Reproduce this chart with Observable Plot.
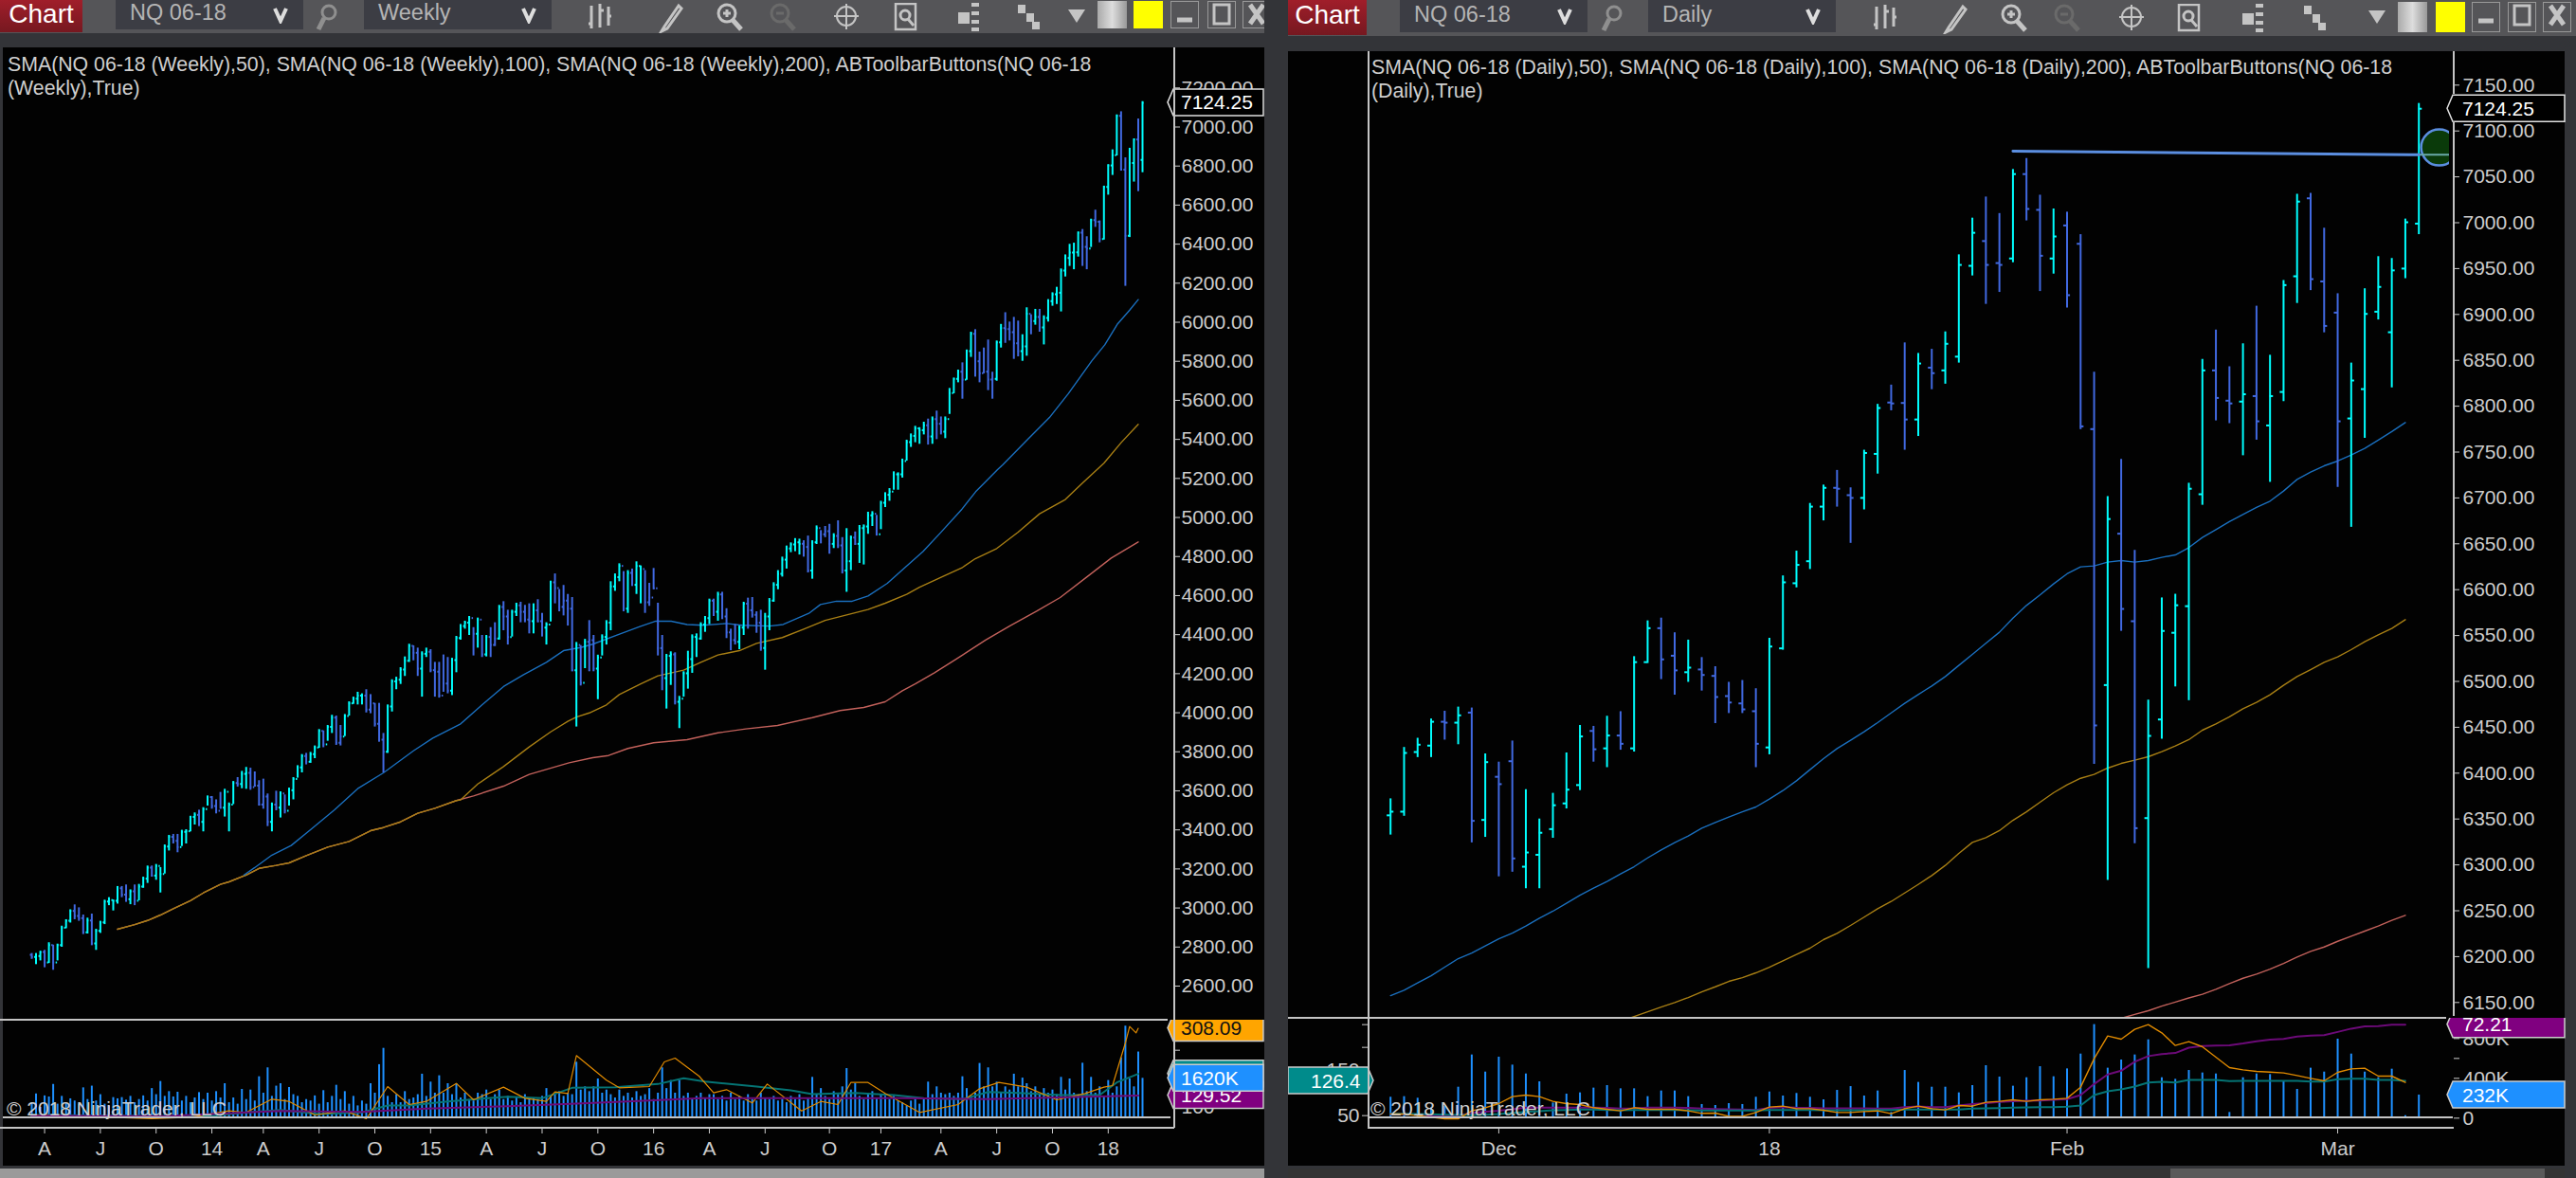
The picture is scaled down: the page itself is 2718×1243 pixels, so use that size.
<!DOCTYPE html>
<html><head><meta charset="utf-8">
<script src="https://cdn.jsdelivr.net/npm/d3@7"></script>
<script src="https://cdn.jsdelivr.net/npm/@observablehq/plot@0.6"></script>
<style>
html,body{margin:0;padding:0;background:#333438;width:2718px;height:1243px;overflow:hidden;font-family:"Liberation Sans",Arial,sans-serif}
#root{position:relative;width:2718px;height:1243px;overflow:hidden}
.box{position:absolute}
.btn{position:absolute;background:linear-gradient(#a01e2a,#761820);color:#fff;font-size:28px;line-height:28px;text-align:center;overflow:hidden}
.dd{position:absolute;background:#3c3d44;color:#b4b4b4;font-size:23.5px;padding-left:15px;box-sizing:border-box;white-space:nowrap}
.legend{position:absolute;color:#cfcfcf;font-size:21.3px;line-height:25px;white-space:nowrap}
.copy{position:absolute;color:#cfcfcf;font-size:21px;white-space:nowrap;line-height:24px}
.layer{position:absolute}
</style></head><body><div id="root"></div>
<script>
// ---------- Daily chart values (NQ 06-18)
const dailyOpen=[6354,6358,6423,6430,6456,6455,6466,6349,6396,6413,6298,6311,6339,6367,6387,6446,6427,6441,6427,6521,6558,6528,6510,6513,6506,6484,6476,6467.5,6428,6536,6607,6631,6690.5,6711,6703,6700,6748,6804,6803.5,6785.5,6842,6839,6854,6953,6980,6956,6961,7053,7014,6961,6997,6977,6775,6496,6661,6565.6,6351,6458.5,6553,6582,6704,6839,6806,6805,6811,6779,6815.5,6941.6,7026.6,6936,6902,6786.6,6818.6,6903,6880.6,6950,6999];
const dailyHigh=[6372,6428,6438,6459,6467.5,6472,6471,6421,6412,6435,6382,6350,6378,6422,6452,6451,6462,6467,6527,6566,6569,6553,6545,6526,6516,6499,6501,6492,6547,6615,6642,6694,6714,6730,6711,6752,6802,6823,6869,6857.5,6862,6881,6965,7005,7028,7010,7058,7070,7030,7015,7011.5,6987,6837,6701.5,6742,6642.7,6479.5,6591,6595,6716,6851,6883,6843,6868,6909,6855.5,6937,7031,7032,6994,6922.6,6847,6928,6963,6961,7004,7130];
const dailyLow=[6332.5,6353,6417,6417,6436,6431,6324,6330,6287,6292,6274,6274,6329,6361,6381,6412,6406,6425,6423,6519.5,6502,6485,6499,6489.5,6454,6465,6465,6406,6420,6534,6602,6622,6675,6690,6650.5,6687,6726,6795,6752,6767,6818,6824,6847,6942,6911,6924,6956.4,7002,6925,6944,6907,6774.5,6409.6,6283,6554.6,6323,6187,6437,6494,6479,6692,6784,6781,6746,6763,6717,6805,6912,6926,6880,6711.5,6668,6765,6894,6820,6939,6987];
const dailyClose=[6358,6422,6431,6456,6455,6463,6348,6412,6388,6307,6313.5,6335,6365,6382,6440,6426,6441,6432,6521,6558,6524,6512,6515,6507,6483,6477,6469.5,6432,6538,6608,6627,6690.5,6711,6710,6700,6749,6798,6803,6785.5,6846.5,6836,6868,6954,6989,6954,6954,7053,7015,6964,6985,6921,6778,6452,6677,6579,6340,6440.6,6555,6583,6710,6839,6809,6803,6813,6783.5,6811,6932,7023,6938.5,6887.5,6783.5,6828,6900.6,6930,6948,7000.5,7124.25];
const dailySma50=[6157.5,6163.4,6171.3,6179.2,6188.5,6197.8,6204,6211.6,6219.5,6225.7,6233.3,6241.9,6249.5,6258.1,6267,6274.6,6281.8,6290.1,6298,6307.6,6316.3,6324.2,6331.4,6340,6346.2,6352.1,6357.9,6363.1,6371.7,6381,6391.7,6403.8,6415.8,6426.8,6435.8,6445.1,6455.1,6465.7,6476.1,6485.7,6495,6505.3,6517.4,6529.5,6541.5,6553.6,6569,6582.8,6594.2,6606.3,6617.3,6624.9,6625.9,6630,6631.7,6630,6631.7,6635.2,6637.9,6645.9,6656.9,6665.5,6674.1,6682,6689.6,6696.5,6707.5,6720.2,6728.1,6735,6740.2,6746.8,6754,6763,6772.3,6782.2];
const dailySma100Start=17;
const dailySma100=[6129.5,6134.7,6139.9,6145,6150,6155.4,6161.6,6167.1,6173,6177.1,6182.3,6188.5,6195.4,6202.3,6209.2,6218.5,6225.4,6234,6243,6252.2,6260.1,6269.4,6278.7,6288.4,6299.4,6312.5,6324.5,6329.7,6337.3,6348.6,6357.9,6368.3,6378.6,6387.2,6394.4,6398.6,6405.5,6410.6,6414.1,6417.9,6423.4,6429.6,6436.5,6446.8,6453.7,6461.3,6470.2,6477.1,6485.4,6495.7,6505.3,6512.9,6520.8,6526.7,6534.6,6543.2,6550.8,6557.7,6567.3];
const dailySma200Start=54;
const dailySma200=[6132.7,6137,6141,6146,6150.5,6155,6159,6164.4,6170.6,6176.4,6180.9,6186.4,6192.6,6199.5,6205.7,6210.5,6216.7,6222.3,6227.8,6233.3,6239.5,6245];
const dailyVolumeK=[210,216,200,105,121,311,635,463,613,533,444,365,152,241,254,302,327,295,295,216,273,273,216,137,127,146,137,210,263,222,248,210,184,279,317,222,273,57,479,359,311,311,254,327,527,413,321,406,517,416,495,644,940,502,584,635,787,406,390,479,454,444,57,406,444,438,368,289,502,463,794,644,463,406,492,25,232];
const dailyOrange=[53.5,53.5,50,46.5,43,43,60.4,67.4,76.4,91.7,95.1,91.7,81.3,76.4,74.3,67.4,63.9,60.4,67.4,63.9,63.9,63.9,60.4,54.9,55.6,48.6,48.6,56.9,68.8,70.8,65.3,65.3,61.8,56.9,56.9,59,60.4,54.2,65.3,70.8,65.3,62.5,72.2,70.8,79.2,81.3,84.7,81.3,84.7,86.1,88.2,112.5,175,225,218,239.6,250,231.9,204.2,212.5,201.4,178.5,155.6,150.7,147.2,145.8,143.8,138.2,131.9,126.4,145.1,152.8,154.2,136.8,136.8,122.9];
const dailyTeal=[54.2,54.2,53.5,52.8,52.1,51.4,51.4,52.1,53.5,55.6,58.3,59.7,61.8,62.5,63.2,63.2,62.5,61.8,62.5,62.5,62.5,62.5,61.8,61.1,61.1,61.1,61.1,61.1,62.5,62.5,62.5,62.5,61.8,61.8,61.8,61.8,62.5,62.5,63.2,63.2,63.2,63.2,63.2,65.3,66,66.7,67.4,68.1,68.8,68.8,69.4,72.2,95.1,103.5,107.6,113.9,122.9,124.3,122.9,128.5,128.5,128.5,125.7,126.4,126.4,126.4,126.4,126.4,125,125,129.9,131.3,131.3,128.5,128.5,126.4];
const dailyPurple=[31.9,31.9,31.6,31.1,30.9,31.1,32.3,32.9,33.3,34,34.7,34.7,34.7,34.7,34.7,34.7,34.6,34.3,34.4,34.7,34.7,34.7,34.6,34.3,34.1,34,33.9,33.7,34.6,35,34.7,34.6,34.4,34.4,34.4,34.4,34.3,34.3,35,35.3,35,35,35.7,36.3,36.8,37.3,37.6,37.8,38,38.3,38.6,40.4,45.4,49.7,51.4,55.4,58,58.9,59.4,61.8,62.5,62.8,62.9,63.7,64.7,65.4,65.8,66.8,67.2,67.5,68.9,70.4,71.4,71.5,72.2,72.2];
const dailyTickIdx=[8,28,50,70];
const dailyTickLabels=["Dec","18","Feb","Mar"];

// ---------- Weekly chart values
const weekFirstOpen=2760;
const weekHigh=[2767,2767,2778,2783,2822,2810,2815,2907,2940,2991,3016,3001,2964,2948,2969,2891,2932,3040,3053,3040,3110,3110,3118,3093,3118,3121,3158,3215,3215,3223,3207,3323,3372,3377,3377,3398,3401,3470,3487,3501,3514,3574,3571,3554,3592,3608,3538,3648,3668,3700,3720,3716,3697,3652,3660,3584,3538,3598,3595,3579,3614,3668,3729,3786,3792,3797,3830,3914,3907,3935,3987,3983,3935,3991,4056,4080,4105,4097,4118,4093,4048,4048,3894,4040,4169,4182,4231,4286,4351,4343,4331,4312,4331,4323,4258,4258,4296,4283,4279,4391,4452,4469,4493,4436,4485,4396,4396,4436,4461,4550,4569,4525,4525,4561,4566,4550,4558,4558,4579,4509,4461,4674,4711,4631,4652,4606,4590,4360,4344,4376,4472,4396,4295,4399,4472,4671,4711,4763,4723,4728,4736,4773,4752,4728,4663,4739,4561,4396,4299,4312,4307,4084,4210,4315,4399,4404,4461,4493,4582,4582,4617,4617,4533,4428,4452,4444,4566,4587,4590,4517,4525,4509,4585,4666,4728,4797,4854,4870,4892,4889,4881,4905,4881,4957,4933,4954,4965,4917,4983,4897,4943,4905,4926,4959,4962,5027,5030,5011,5083,5127,5148,5234,5229,5299,5396,5428,5467,5460,5488,5504,5515,5545,5515,5515,5661,5714,5755,5792,5858,5949,5962,5847,5868,5909,5744,5904,5989,6049,6001,6025,6006,5936,6074,6038,6066,6066,6033,6116,6151,6179,6273,6345,6399,6405,6462,6475,6438,6528,6574,6519,6697,6807,6883,7062,7078,6842,6891,6939,7041,7130];
const weekLow=[2737,2710,2729,2694,2716,2681,2729,2799,2894,2923,2940,2932,2864,2867,2807,2783,2870,2915,3012,2985,3020,3053,3029,3017,3012,3037,3101,3126,3158,3142,3077,3174,3292,3328,3283,3315,3328,3390,3425,3417,3390,3522,3506,3482,3506,3466,3390,3530,3619,3611,3608,3603,3619,3522,3506,3417,3390,3498,3461,3482,3522,3554,3665,3692,3733,3741,3765,3818,3821,3854,3894,3833,3830,3878,3983,4043,4040,4040,3999,3995,3927,3849,3692,3792,4004,4118,4145,4186,4258,4266,4186,4080,4283,4205,4080,4075,4105,4097,4088,4205,4372,4428,4396,4291,4331,4283,4286,4283,4339,4372,4420,4347,4388,4493,4461,4461,4404,4404,4461,4388,4347,4465,4558,4517,4496,4444,4210,3927,4137,4226,4210,4210,4067,4291,4347,4420,4622,4671,4517,4509,4647,4606,4558,4509,4545,4630,4291,4113,4019,4140,4040,3919,4080,4121,4202,4283,4372,4412,4452,4493,4469,4477,4380,4318,4347,4323,4396,4428,4485,4407,4315,4218,4420,4566,4630,4695,4736,4820,4825,4808,4797,4716,4684,4862,4865,4897,4812,4841,4841,4711,4617,4728,4857,4765,4757,4914,4954,4905,4938,5051,5083,5140,5140,5202,5289,5359,5383,5375,5423,5371,5375,5399,5423,5404,5528,5634,5690,5606,5703,5820,5719,5690,5736,5650,5606,5698,5868,5892,5904,5810,5823,5800,5826,5936,5985,5949,5884,6001,6082,6091,6053,6232,6286,6269,6334,6286,6269,6383,6486,6407,6421,6651,6752,6852,6774,6184,6434,6718,6669,6766];
const weekClose=[2749,2754,2775,2721,2810,2721,2810,2899,2935,2985,2959,2948,2875,2936,2818,2883,2927,3033,3040,3037,3101,3069,3045,3085,3037,3110,3150,3207,3166,3215,3174,3315,3364,3344,3312,3390,3393,3466,3477,3441,3506,3568,3522,3498,3514,3595,3530,3640,3635,3687,3692,3619,3627,3530,3571,3441,3530,3514,3587,3498,3603,3660,3720,3778,3749,3788,3822,3907,3838,3927,3975,3846,3878,3983,4048,4072,4088,4088,4016,4048,3943,3862,3800,4032,4161,4169,4221,4266,4343,4307,4226,4302,4312,4218,4210,4088,4150,4113,4270,4383,4444,4461,4485,4404,4477,4299,4388,4347,4380,4542,4493,4388,4517,4550,4517,4477,4469,4525,4469,4436,4452,4668,4639,4542,4574,4533,4218,4347,4153,4363,4372,4226,4283,4388,4461,4647,4695,4752,4533,4716,4655,4752,4736,4566,4590,4638,4331,4177,4291,4299,4056,4072,4202,4274,4388,4380,4452,4485,4574,4517,4606,4493,4412,4372,4363,4436,4558,4525,4501,4461,4331,4493,4574,4655,4711,4784,4841,4862,4873,4865,4849,4728,4873,4946,4914,4930,4865,4905,4857,4728,4776,4897,4865,4946,4954,5011,5019,4914,5075,5116,5132,5221,5221,5289,5386,5418,5456,5447,5472,5415,5504,5480,5439,5504,5637,5710,5747,5706,5852,5941,5800,5739,5747,5706,5710,5897,5970,5965,5949,5892,5852,5876,6043,6006,6027,5973,6022,6108,6143,6151,6265,6329,6357,6358,6459,6386,6378,6523,6515,6426,6693,6803,6855,7057,6782,6443,6815,6936,6831,7124.25];
const weekDirections=["duududuuuu","ddduduuuuu","udduduuudu","uuudduuuud","uuddduuudu","udddddudud","uuuuduuudu","udduuuuudd","ddduuuuuud","duuddddduu","uuudududdu","dduudddudd","uudddddudu","dduuuuuudu","duuddddduu","duuuuuuuud","udddduuddd","duuuuuuuuu","dduudddudd","uuduuuuduu","uuuuuuuuud","udduuuuduu","ddddduuddd","duududuuuu","uuuuuddudd","uuuudduudu"].join("");
const weekSma50Idx=[49.5,52,56,60.5,65,70.6,76,82,89,93.5,100,105,110,114.6,120,124,128,130.8,137.2,141.8,145.5,149.1,152.8,156.5,162,165.6,172,175.2,181.2,183.9,187.6,191.3,195,199.5,203.2,207.8,211.9,216.9,220.1,225.2,226.4,232.2,237.3,241.7,247.2,250.2,253.1,256,258];
const weekSma50=[3169,3207,3271,3320,3401,3503,3611,3692,3805,3870,3943,4040,4134,4194,4258,4318,4334,4351,4404,4441,4469,4469,4452,4448,4457,4448,4444,4452,4509,4554,4571,4571,4598,4663,4736,4825,4922,5043,5132,5245,5270,5399,5512,5634,5803,5884,5989,6062,6116];
const weekSma100Idx=[20,24,27,30,33,37,40,44,46,50,53,57,60,64,69,74,79,82,86,90,94,99,100,104,110,116,121,125,127,130,134,137,142,146,152,156,160,165,169,175,180,185,190,195,199,204,207,213,217,220,225,230,235,241,244,250,254,258];
const weekSma100=[2891,2915,2936,2964,2996,3037,3077,3121,3134,3169,3203,3218,3231,3268,3312,3341,3396,3412,3441,3485,3511,3550,3554,3635,3724,3825,3902,3956,3978,3999,4040,4093,4148,4189,4218,4258,4296,4318,4355,4385,4428,4473,4501,4529,4561,4606,4643,4703,4744,4789,4841,4925,5019,5092,5156,5278,5383,5477];
const weekSma200Idx=[20,24,27,30,33,37,40,44,46,50,53,57,60,64,69,74,79,82,86,90,94,99,103,110,116,125.3,130.8,134.5,139,145,152.8,160,166.5,173.9,182,188.5,194,199,203,206,210.5,215.5,222.4,228,234.3,239.8,246,251.7,258];
const weekSma200=[2891,2915,2936,2964,2996,3037,3077,3121,3134,3169,3203,3218,3231,3268,3312,3341,3396,3412,3441,3485,3511,3550,3574,3624,3684,3744,3770,3781,3817,3846,3862,3897,3917,3935,3975,4011,4027,4056,4113,4148,4205,4274,4372,4444,4520,4590,4695,4792,4875];
const weekVolumeK=[620,980,430,900,855,1370,560,880,600,780,690,560,1230,750,1300,690,950,560,490,830,780,830,725,880,620,750,900,690,1200,950,1490,880,1075,855,1050,690,880,620,815,1035,750,1010,690,1075,815,1400,620,815,560,1165,750,1140,690,1685,1010,2050,880,1300,1400,750,1245,950,880,620,750,690,900,560,1115,620,880,1335,750,1075,560,880,490,690,560,1400,1010,2180,2850,880,620,950,620,1075,750,815,950,1790,880,1465,1010,1725,1010,1400,950,1400,815,1010,750,690,1010,950,1140,750,950,1140,750,880,690,815,620,950,750,815,750,880,1200,880,950,1075,880,1010,950,2280,1140,1270,1075,1270,1595,1010,1140,950,815,1140,880,1010,815,1075,880,950,1200,750,1010,2050,1200,1530,1010,1530,880,1010,750,880,1010,815,950,950,750,880,690,1010,750,880,690,950,750,690,1010,815,750,880,690,750,620,880,750,950,690,815,1660,950,1200,880,750,1075,950,1270,2020,1140,1400,880,750,1010,1075,815,950,880,750,880,690,620,490,690,815,560,815,1465,950,1270,1010,950,1010,880,1010,1685,1200,880,1010,2230,1270,2050,1270,1465,1010,1270,1140,1790,1270,1630,1400,1075,1270,950,1200,1010,1140,950,1660,1140,1595,1010,950,2240,1075,1660,1010,1270,880,1530,1010,1270,2460,3760,1595,1270,2700,1620];
const weekOrangeIdx=[0,12,28,37,46,50,56,60,66,73,78,83,88,92,99,103,110,115,120,122,125,127,134,137,144,147.5,150,155.6,159,162,168,171.5,179.5,184,188,191,195,199,207,216,221,225.5,232,239,245.6,250,252,255,256,257.5,258];
const weekOrange=[78.2,74.9,68.2,72.3,89.1,84.9,120.1,114.2,78.2,89.1,68.2,153.6,105.9,114.2,162,118.4,152,122.6,114.2,139.4,135.2,235.8,170.4,150.3,153.6,219,229,181.3,136.9,145.3,110.1,160.3,89.1,114.2,105.9,164.5,164.5,135.2,84.9,105.9,147.8,164.5,152,118.4,135.2,152,156.1,269.3,312.9,296.1,308.09];
const weekTealIdx=[0,21,41,50,58,67,77,83,88,97,111,119,126,136,146,152,157,169,177,182,192,201,208,217,223,230,240,249,253,258];
const weekTeal=[78.2,76.5,74.9,84.9,91.6,80.7,84.9,103.4,103.4,114.2,126.8,122.6,150.3,152,160.3,175.4,167,153.6,143.6,133.5,136.9,131,122.6,120.1,139.4,136.9,131,131,164.5,187.2];
const weekPurpleIdx=[0,31,58,77,92,111,127,144,156,175,203,223,258];
const weekPurple=[76.5,74.9,89.1,86.6,95,101.7,108.4,116.8,122.6,122.6,122.6,120.1,129.52];
const weekTickIdx=[3,16,29,42,54,67,80,93,106,119,132,145,158,171,186,198,212,225,238,251];
const weekTickLabels=["A","J","O","14","A","J","O","15","A","J","O","16","A","J","O","17","A","J","O","18"];
const weekPriceTicks=[2600,2800,3000,3200,3400,3600,3800,4000,4200,4400,4600,4800,5000,5200,5400,5600,5800,6000,6200,6400,6600,6800,7000,7200];
const dayPriceTicks=[6150,6200,6250,6300,6350,6400,6450,6500,6550,6600,6650,6700,6750,6800,6850,6900,6950,7000,7050,7100,7150];
const lastPrice=7124.25;
const weeklyLegend=["SMA(NQ 06-18 (Weekly),50), SMA(NQ 06-18 (Weekly),100), SMA(NQ 06-18 (Weekly),200), ABToolbarButtons(NQ 06-18","(Weekly),True)"];
const dailyLegend=["SMA(NQ 06-18 (Daily),50), SMA(NQ 06-18 (Daily),100), SMA(NQ 06-18 (Daily),200), ABToolbarButtons(NQ 06-18","(Daily),True)"];

// ---------- styles
const CYAN="#00ffff",ROYAL="#4169e1",SMA_BLUE="#1a6fbe",SMA_ORANGE="#a87f14",SMA_RED="#c2615b";
const VOL="#1e90ff",V_ORANGE="#e08a00",V_TEAL="#057474",V_PURPLE="#6c0a78",CHROME="#c4c4c4";
const root=document.getElementById("root");
const crisp={shapeRendering:"crispEdges"};
function div(cls,css,html){const e=document.createElement("div");if(cls)e.className=cls;Object.assign(e.style,css);if(html!=null)e.innerHTML=html;root.appendChild(e);return e;}
const box=(l,t,w,h,bg)=>div("box",{left:l+"px",top:t+"px",width:w+"px",height:h+"px",background:bg});
function layer(o){
  const el=Plot.plot({width:o.w,height:o.h,marginLeft:o.ml,marginRight:o.mr,marginTop:0,marginBottom:o.mb||0,
    x:{domain:o.xd,range:o.xr,axis:null},y:{domain:o.yd,range:o.yr,axis:null},
    style:{background:"transparent",overflow:"hidden",maxWidth:"none",color:"#cccccc",fontFamily:"'Liberation Sans',Arial,sans-serif",fontSize:"21px"},
    marks:o.marks});
  el.classList.add("layer");el.style.position="absolute";el.style.left=o.l+"px";el.style.top=o.t+"px";el.style.width=o.w+"px";el.style.height=o.h+"px";
  root.appendChild(el);return el;
}
function flag(v,label,o){ // value flag placed through the panel's y scale
  const anchorY=Plot.ruleY([v],{y:d=>d,strokeOpacity:0});
  const draw=(index,scales)=>{
    const y=scales.y(v),g=d3.create("svg:g"),h=14;
    const a=o.x0,b=o.x1,tip=o.pointerLeft?a-6:b+6;
    const pts=o.pointerLeft?[[tip,y],[a,y-h],[b,y-h],[b,y+h],[a,y+h]]:[[a,y-h],[b,y-h],[tip,y],[b,y+h],[a,y+h]];
    g.append("polygon").attr("points",pts.join(" ")).attr("fill",o.fill).attr("stroke",o.stroke||"#cccccc").attr("stroke-width",1.5);
    g.append("text").attr("x",o.tx).attr("y",y).attr("dy","0.36em").attr("text-anchor","start").attr("fill",o.color||"#fff").attr("font-size",o.fs||21).text(label);
    return g.node();
  };
  return [anchorY,draw];
}
const line=(xs,ys,stroke,sw)=>Plot.line(xs.map((x,k)=>({x,y:ys[k]})),{x:"x",y:"y",stroke,strokeWidth:sw});
function ohlc(rows,tick){
  const up=rows.filter(d=>d.up),dn=rows.filter(d=>!d.up);
  const part=(data,col)=>[
    Plot.ruleX(data,{x:"i",y1:"l",y2:"h",stroke:col,strokeWidth:2,style:crisp}),
    Plot.ruleY(data,{x1:d=>d.i-tick,x2:"i",y:"o",stroke:col,strokeWidth:2,style:crisp}),
    Plot.ruleY(data,{x1:"i",x2:d=>d.i+tick,y:"c",stroke:col,strokeWidth:2,style:crisp})];
  return [...part(dn,ROYAL),...part(up,CYAN)];
}

// ---------- toolbars and panel chrome
function icon(x,w,h,body,top){const e=div("box",{left:x+"px",top:(top||2)+"px",width:w+"px",height:h+"px"},`<svg width="${w}" height="${h}" viewBox="0 0 ${w} ${h}" fill="none" stroke="#c4c4c4" stroke-width="3">${body}</svg>`);return e;}
function toolbar(ox,h,subH,cfg){
  box(ox,0,1359,h,"#555558");
  box(ox,h,1359,subH,"#333438");
  const b=div("btn",{left:ox+"px",top:"0px",width:cfg.chartW+"px",height:(h-1)+"px"},"Chart");
  b.style.lineHeight=(h-6)+"px";
  [[cfg.d1,"NQ 06-18"],[cfg.d2,cfg.tf]].forEach(([x,t])=>{
    div("dd",{left:x+"px",top:"0px",width:"198px",height:(h-4)+"px",lineHeight:(h-8)+"px"},t+`<svg style="position:absolute;right:16px;top:${(h-22)/2}px" width="16" height="18"><path d="M2 2 L8 15 L14 2" fill="none" stroke="#ddd" stroke-width="4"/></svg>`);
  });
  const t=cfg.t;
  icon(cfg.mag-14,28,30,`<circle cx="16" cy="10" r="7" stroke="#8f8f8f"/><path d="M11 16 L5 28" stroke="#8f8f8f" stroke-width="5"/>`,t);
  icon(cfg.ic[0]-14,28,30,`<path d="M5 3V27M14 1V26M23 4V24M2 22H5M14 8H18M23 14H26" />`,t);
  icon(cfg.ic[1]-14,28,32,`<path d="M22 3 L7 25 L4 30 L10 27 L25 6 Z" stroke-width="3"/>`,t);
  icon(cfg.ic[2]-14,30,30,`<circle cx="12" cy="11" r="9"/><path d="M8 11H16M12 7V15"/><path d="M18 18 L27 28" stroke-width="5"/>`,t);
  icon(cfg.ic[3]-14,30,30,`<circle cx="12" cy="11" r="9" stroke="#6a6a6a"/><path d="M8 11H16" stroke="#6a6a6a"/><path d="M18 18 L27 28" stroke="#6a6a6a" stroke-width="5"/>`,t);
  icon(cfg.ic[4]-16,32,30,`<circle cx="16" cy="14" r="10" stroke-width="2"/><path d="M16 1V28M3 14H29" stroke-width="2"/>`,t);
  icon(cfg.ic[5]-14,28,30,`<path d="M3 1H24V28H3Z" stroke-width="2.5"/><circle cx="13" cy="13" r="5"/><path d="M16 17 L22 24"/>`,t);
  icon(cfg.ic[6]-14,28,30,`<path d="M2 12H10V20H2ZM14 2H22M14 11H22M14 20H22M14 28H22" fill="#c4c4c4" stroke-width="4"/>`,t);
  icon(cfg.ic[7]-14,28,30,`<path d="M3 2H11V11H3ZM12 11H20V20H12ZM18 20H26V28H18Z" fill="#c4c4c4" stroke="none"/>`,t);
  icon(cfg.ic[8]-10,20,16,`<path d="M1 1H19L10 15Z" fill="#c4c4c4" stroke="none"/>`,t+6);
  box(cfg.gray,t-2,31,h-6,"linear-gradient(90deg,#aaa,#ddd,#999)");
  box(cfg.yellow,t-2,31,h-6,"#ffff00");
  [[cfg.w[0],`<path d="M7 20H23" stroke-width="5"/>`],[cfg.w[1],`<path d="M7 4H23V24H7Z" stroke-width="3"/>`],[cfg.w[2],`<path d="M8 4L22 24M22 4L8 24" stroke-width="5"/>`]].forEach(([x,s])=>{
    icon(x,30,h-6,`<rect x="0.5" y="0.5" width="29" height="${h-7}" stroke="#999" stroke-width="1"/>${s}`,t-2);
  });
}
toolbar(0,35,14,{chartW:87,d1:122,d2:384,tf:"Weekly",mag:345,ic:[633,708,769,825,893,956,1025,1085,1136],gray:1158,yellow:1196,w:[1235,1274,1311],t:3});
box(1334,0,25,1243,"#333438");
toolbar(1359,38,14,{chartW:83,d1:1477,d2:1739,tf:"Daily",mag:1701,ic:[1989,2063,2124,2180,2249,2310,2380,2442,2508],gray:2530,yellow:2570,w:[2608,2646,2683],t:4});
box(2706,50,12,1193,"#333438");
box(3,50,1331,1180,"#020202");
box(1359,54,1347,1176,"#020202");
box(0,1233,1334,10,"#9a9a9a");
box(1359,1233,1347,10,"#343434");
box(2290,1233,395,10,"#5a5a5a");

// ---------- weekly price panel
const weekRows=weekHigh.map((h,i)=>({i,h,l:weekLow[i],c:weekClose[i],o:i?weekClose[i-1]:weekFirstOpen,up:weekDirections[i]==="u"}));
const WX={xd:[0,259],xr:[33,1205]};
const weekPricePanel={l:0,t:50,w:1334,h:1026,ml:3,mr:96,...WX,yd:[7000,2600],yr:[83.5,990]};
layer({...weekPricePanel,marks:[
  Plot.axisY({anchor:"right",ticks:weekPriceTicks,tickSize:6,tickPadding:2,label:null,tickFormat:d=>d.toFixed(2)}),
  line(weekSma200Idx,weekSma200,SMA_RED,1.4),
  line(weekSma100Idx,weekSma100,SMA_ORANGE,1.4),
  line(weekSma50Idx,weekSma50,SMA_BLUE,1.4),
  ...ohlc(weekRows,0.33),
  ...flag(lastPrice,"7124.25",{x0:1238,x1:1333,tx:1246,fill:"#000",stroke:"#e0e0e0",pointerLeft:true})
]});

// ---------- daily price panel
const dayRows=dailyHigh.map((h,i)=>({i,h,l:dailyLow[i],c:dailyClose[i],o:dailyOpen[i],up:dailyClose[i]>=dailyOpen[i]}));
const DX={xd:[0,76],xr:[107.7,1192.7]};
const dayPricePanel={l:1359,t:54,w:1349,h:1020,ml:84,mr:120,...DX,yd:[7150,6150],yr:[35.3,1003.3]};
layer({...dayPricePanel,marks:[
  Plot.axisY({anchor:"right",ticks:dayPriceTicks,tickSize:6,tickPadding:4,label:null,tickFormat:d=>d.toFixed(2)}),
  line(dailySma200.map((_,k)=>k+dailySma200Start),dailySma200,SMA_RED,1.4),
  line(dailySma100.map((_,k)=>k+dailySma100Start),dailySma100,SMA_ORANGE,1.4),
  line(dailySma50.map((_,k)=>k),dailySma50,SMA_BLUE,1.4),
  Plot.dot([{i:77.5,v:7082}],{x:"i",y:"v",r:19,fill:"#0a3a0a",stroke:"#5b8ee0",strokeWidth:2.5,clip:true}),
  ...ohlc(dayRows,0.25),
  line([76,78.2],[7074,7074],"#6aa9a9",2),
  line([46,76],[7078,7074],"#5b8ee0",3),
  ...flag(lastPrice,"7124.25",{x0:2588-1359,x1:2706-1359,tx:2598-1359,fill:"#000",stroke:"#e0e0e0",pointerLeft:true})
]});
box(2584,132,4,46,"#020202");

// ---------- weekly lower panel
const wBase={l:0,t:1076,w:1334,h:156,ml:3,mr:96,mb:42,...WX};
const wVolScale={yd:[0,4000],yr:[103,0.1]};
const wLineScale={yd:[100,300],yr:[91.33,11.8]};
layer({...wBase,...wVolScale,marks:[
  Plot.ruleX(weekVolumeK.map((v,i)=>({i,v})),{x:"i",y1:0,y2:"v",stroke:VOL,strokeWidth:2,style:crisp}),
  Plot.axisX({anchor:"bottom",ticks:weekTickIdx,tickFormat:d=>weekTickLabels[weekTickIdx.indexOf(d)],tickSize:6,tickPadding:8,label:null})
]});
layer({...wBase,...wLineScale,marks:[
  Plot.axisY({anchor:"right",ticks:[100,250],tickSize:6,tickPadding:2,label:null,tickFormat:d=>d===100?"100":""}),
  line(weekTealIdx,weekTeal,V_TEAL,2),
  line(weekOrangeIdx,weekOrange,V_ORANGE,1.2),
  ...flag(308.09,"308.09",{x0:1238,x1:1333,tx:1246,fill:"#ffa500",color:"#111",pointerLeft:true})
]});
layer({...wBase,...wLineScale,marks:[
  line(weekPurpleIdx,weekPurple,V_PURPLE,2),
  ...flag(129.52,"129.52",{x0:1238,x1:1333,tx:1246,fill:"#800080",pointerLeft:true})
]});
layer({...wBase,...wLineScale,marks:[...flag(187.2,"",{x0:1238,x1:1333,tx:1246,fill:"#008b8b",pointerLeft:true})]});
layer({...wBase,...wVolScale,marks:[...flag(1620,"1620K",{x0:1238,x1:1333,tx:1246,fill:"#1e90ff",pointerLeft:true})]});

// ---------- daily lower panel
const dBase={l:1359,t:1074,w:1349,h:158,ml:84,mr:120,mb:42,...DX};
const dVolScale={yd:[0,1000],yr:[105.33,0.33]};
const dLineScale={yd:[50,250],yr:[102.67,6.67]};
const dPurpleScale={yd:[30,72],yr:[105.33,7.15]};
layer({...dBase,...dVolScale,marks:[
  Plot.ruleX(dailyVolumeK.map((v,i)=>({i,v})),{x:"i",y1:0,y2:"v",stroke:VOL,strokeWidth:2,style:crisp}),
  Plot.axisX({anchor:"bottom",ticks:dailyTickIdx,tickFormat:d=>dailyTickLabels[dailyTickIdx.indexOf(d)],tickSize:6,tickPadding:8,label:null}),
  Plot.axisY({anchor:"right",ticks:[0,200,400,600,800],tickSize:6,tickPadding:4,label:null,tickFormat:d=>d===0?"0":(d===400||d===800?d+"K":"")})
]});
layer({...dBase,...dPurpleScale,marks:[line(dailyPurple.map((_,k)=>k),dailyPurple,V_PURPLE,2),
  ...flag(72.21,"72.21",{x0:2588-1359,x1:2706-1359,tx:2598-1359,fill:"#800080",pointerLeft:true})]});
layer({...dBase,...dLineScale,marks:[
  Plot.axisY({anchor:"left",ticks:[50,100,150,200,250],tickSize:6,tickPadding:3,label:null,tickFormat:d=>(d===50||d===150)?String(d):""}),
  line(dailyTeal.map((_,k)=>k),dailyTeal,V_TEAL,2),
  line(dailyOrange.map((_,k)=>k),dailyOrange,V_ORANGE,1.4),
  ...flag(126.4,"126.4",{x0:0,x1:84,tx:24,fill:"#008b8b",pointerLeft:false})
]});
layer({...dBase,...dVolScale,marks:[...flag(232,"232K",{x0:2588-1359,x1:2706-1359,tx:2598-1359,fill:"#1e90ff",pointerLeft:true})]});

// ---------- chrome lines (on top of the panels)
const rule=(l,t,w,h)=>box(l,t,w,h,CHROME);
rule(1238,50,1.5,1140); rule(0,1075,1232,2); rule(3,1178,1232,2); rule(0,1189,1239,2);
rule(1443,54,1.5,1136); rule(2588,54,1.5,45); rule(2588,128,1.5,944); rule(1359,1073,1222,2); rule(1443,1178,1145,2); rule(1443,1189,1146,2);

// ---------- texts
div("legend",{left:"8px",top:"56px"},weeklyLegend.join("<br>"));
div("legend",{left:"1447px",top:"59px"},dailyLegend.join("<br>"));
div("copy",{left:"7px",top:"1158px"},"© 2018 NinjaTrader, LLC");
div("copy",{left:"1446px",top:"1158px"},"© 2018 NinjaTrader, LLC");
</script>
</body></html>
